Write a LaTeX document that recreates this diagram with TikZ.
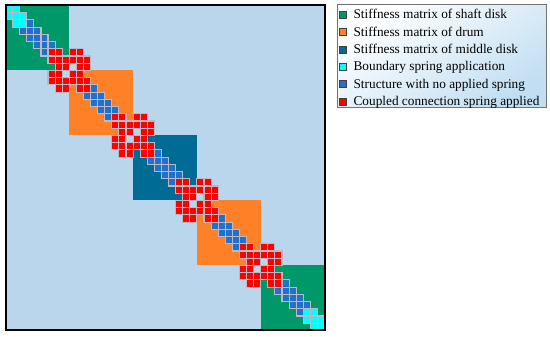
\documentclass[tikz,border=0pt]{standalone}
\usepackage{fontspec}
\setmainfont{Liberation Serif}
\usetikzlibrary{positioning}

\definecolor{bgBlue}{RGB}{186,214,237}
\definecolor{shaftGreen}{RGB}{0,152,104}
\definecolor{drumOrange}{RGB}{255,128,38}
\definecolor{diskTeal}{RGB}{0,108,150}
\definecolor{springCyan}{RGB}{0,255,255}
\definecolor{plainBlue}{RGB}{35,112,204}
\definecolor{coupleRed}{RGB}{255,0,0}
\definecolor{gridGray}{RGB}{186,186,196}
\definecolor{legendBlue}{RGB}{194,222,242}

\tikzset{
	stiffCell/.style={
		draw=gridGray,
		line width=1.1pt
	},
	stiffFrame/.style={draw=black, line width=2pt},
	stiffLegend/.style={
		draw=black!55,
		line width=1pt,
		top color=white,
		bottom color=legendBlue,
		shading angle=35,
		minimum width=209pt,
		minimum height=103pt,
		inner sep=0pt
	},
	stiffKey/.style={
		draw=black!75,
		line width=0.8pt,
		minimum size=7pt,
		inner sep=0pt
	},
	stiffLabel/.style={
		font=\fontsize{13.3}{15}\selectfont,
		inner sep=0pt,
		text height=10pt,
		text depth=2pt
	}
}

\begin{document}
\begin{tikzpicture}[x=1pt, y=-1pt]

			\useasboundingbox (0,0) rectangle (550,337);

			% Matrix area
			\begin{scope}[shift={(5.5,5.5)}, x=7.09pt, y=-7.22pt]
				\fill[bgBlue] (0,0) rectangle (45,45);

				% Sub-structure blocks
				\fill[shaftGreen] (0,0) rectangle (9,9);
				\fill[drumOrange] (9,9) rectangle (18,18);
				\fill[diskTeal] (18,18) rectangle (27,27);
				\fill[drumOrange] (27,27) rectangle (36,36);
				\fill[shaftGreen] (36,36) rectangle (45,45);

				% Band inside each block
				\foreach \row in {1,...,45}
				\foreach \d in {-1,0,1} {
					\pgfmathtruncatemacro\col{\row+\d}
					\pgfmathtruncatemacro\same{(floor((\row-1)/9)==floor((\col-1)/9)) && (\col>0) && (\col<46)}
					\ifnum\same=1
						\filldraw[stiffCell, fill=plainBlue] (\col-1,\row-1) rectangle (\col,\row);
					\fi
				}

				% Coupled connection springs
				\foreach \s in {7,16,25,34}
				\foreach \p in {0,...,5}
				\foreach \q in {0,...,5} {
					\pgfmathtruncatemacro\dd{abs(mod(\p,3)-mod(\q,3))}
					\ifnum\dd<2
						\filldraw[stiffCell, fill=coupleRed] (\s+\q-1,\s+\p-1) rectangle (\s+\q,\s+\p);
					\fi
				}

				% Boundary springs
				\foreach \s in {0,42}
				\foreach \p in {1,2,3}
				\foreach \q in {1,2,3} {
					\pgfmathtruncatemacro\dd{abs(\p-\q)}
					\ifnum\dd<2
						\filldraw[stiffCell, fill=springCyan] (\s+\q-1,\s+\p-1) rectangle (\s+\q,\s+\p);
					\fi
				}

				\draw[stiffFrame] (0,0) rectangle (45,45);
			\end{scope}

			% Legend
			\node[stiffLegend, anchor=north west] (legend) at (337,4) {};

			\node[stiffKey, fill=shaftGreen] (key1) at (342.5,15) {};
			\node[stiffKey, fill=drumOrange, below=9.5pt of key1] (key2) {};
			\node[stiffKey, fill=diskTeal, below=9.5pt of key2] (key3) {};
			\node[stiffKey, fill=springCyan, below=9.5pt of key3] (key4) {};
			\node[stiffKey, fill=plainBlue, below=9.5pt of key4] (key5) {};
			\node[stiffKey, fill=coupleRed, below=9.5pt of key5] (key6) {};

			\node[stiffLabel, right=7pt of key1] (label1) {Stiffness matrix of shaft disk};
			\node[stiffLabel, right=7pt of key2] (label2) {Stiffness matrix of drum};
			\node[stiffLabel, right=7pt of key3] (label3) {Stiffness matrix of middle disk};
			\node[stiffLabel, right=7pt of key4] (label4) {Boundary spring application};
			\node[stiffLabel, right=7pt of key5] (label5) {Structure with no applied spring};
			\node[stiffLabel, right=7pt of key6] (label6) {Coupled connection spring applied};

		\end{tikzpicture}
\end{document}
